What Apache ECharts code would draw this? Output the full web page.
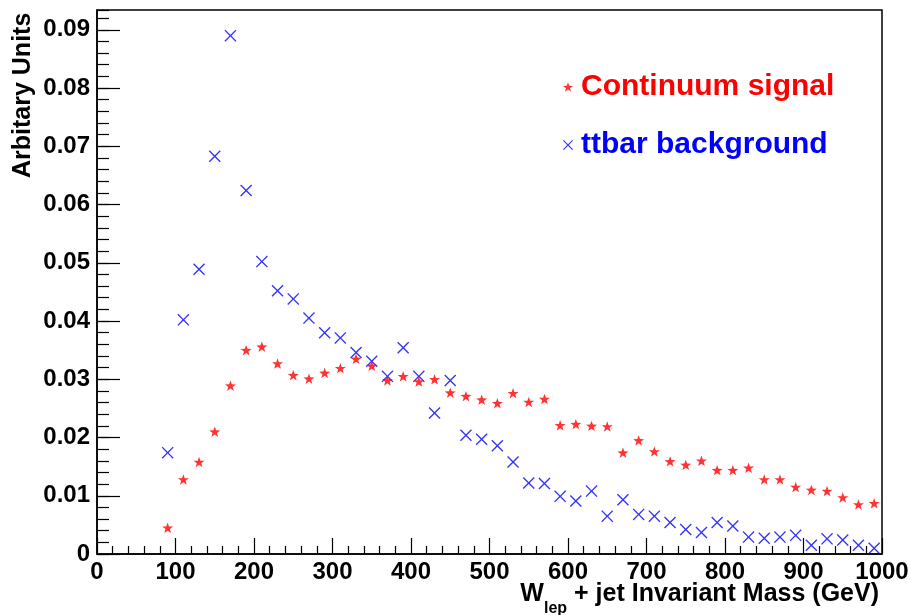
<!DOCTYPE html>
<html>
<head>
<meta charset="utf-8">
<title>W + jet invariant mass</title>
<script src="https://cdn.jsdelivr.net/npm/echarts@6/dist/echarts.min.js"></script>
<style>
  html, body { margin: 0; padding: 0; background: #fff; }
  #chart { width: 911px; height: 615px; }
</style>
</head>
<body>
<div id="chart"></div>
<script>
// Bin centres of the W_lep + jet invariant mass histogram (GeV)
var massBins = [90, 110, 130, 150, 170, 190, 210, 230, 250, 270,
                290, 310, 330, 350, 370, 390, 410, 430, 450, 470,
                490, 510, 530, 550, 570, 590, 610, 630, 650, 670,
                690, 710, 730, 750, 770, 790, 810, 830, 850, 870,
                890, 910, 930, 950, 970, 990];

// Normalised distributions (arbitrary units)
var continuumSignal = [0.0045, 0.0128, 0.0158, 0.0210, 0.0289, 0.0350, 0.0356, 0.0327, 0.0307, 0.0301,
                       0.0311, 0.0319, 0.0335, 0.0323, 0.0298, 0.0305, 0.0296, 0.0300, 0.0277, 0.0271,
                       0.0265, 0.0259, 0.0276, 0.0261, 0.0266, 0.0221, 0.0223, 0.0220, 0.0219, 0.0174,
                       0.0195, 0.0176, 0.0159, 0.0153, 0.0160, 0.0144, 0.0144, 0.0148, 0.0128, 0.0128,
                       0.0115, 0.0110, 0.0108, 0.0097, 0.0085, 0.0087];

var ttbarBackground = [0.0174, 0.0402, 0.0489, 0.0683, 0.0890, 0.0624, 0.0502, 0.0452, 0.0438, 0.0405,
                       0.0380, 0.0371, 0.0346, 0.0331, 0.0305, 0.0354, 0.0305, 0.0242, 0.0298, 0.0204,
                       0.0197, 0.0186, 0.0158, 0.0122, 0.0121, 0.0099, 0.0091, 0.0108, 0.0065, 0.0093,
                       0.0068, 0.0065, 0.0054, 0.0042, 0.0037, 0.0054, 0.0048, 0.0029, 0.0027, 0.0029,
                       0.0032, 0.0015, 0.0026, 0.0024, 0.0015, 0.0010];

var seriesNames = ['Continuum signal', 'ttbar background'];
var xTitle = '{m|W}{sub|lep}{m| + jet Invariant Mass (GeV)}';
var yTitle = 'Arbitary Units';

var FONT = '"Liberation Sans", Arial, Helvetica, sans-serif';
var STAR = 'path://M50,0 L61.76,33.82 L97.55,34.55 L69.02,56.18 L79.39,90.45 L50,70 L20.61,90.45 L30.98,56.18 L2.45,34.55 L38.24,33.82 Z';
var CROSS = 'path://M0,8 L8,0 L50,42 L92,0 L100,8 L58,50 L100,92 L92,100 L50,58 L8,100 L0,92 L42,50 Z';

function pairs(xs, ys) {
  return xs.map(function (x, i) { return [x, ys[i]]; });
}

var chart = echarts.init(document.getElementById('chart'), null, { renderer: 'canvas' });

chart.setOption({
  backgroundColor: '#ffffff',
  animation: false,
  grid: {
    left: 97, right: 29, top: 10, bottom: 61,
    show: true, borderColor: '#000', borderWidth: 1.5,
    outerBoundsMode: 'none'
  },
  legend: {
    orient: 'vertical',
    left: 563, top: 67,
    padding: 0,
    itemWidth: 10, itemHeight: 10,
    itemGap: 18,
    selectedMode: false,
    textStyle: { fontFamily: FONT, fontWeight: 'bold', fontSize: 30, lineHeight: 30, padding: [0, 0, 10, 3] },
    data: [
      { name: seriesNames[0], icon: STAR, textStyle: { color: '#ff0000' }, itemStyle: { color: '#ff0000' } },
      { name: seriesNames[1], icon: CROSS, textStyle: { color: '#0000ff' }, itemStyle: { color: '#0000ff' } }
    ]
  },
  // axis titles
  graphic: [
    {
      type: 'text',
      x: 879, y: 582,
      silent: true,
      style: {
        text: xTitle,
        align: 'right',
        verticalAlign: 'top',
        rich: {
          m: { fontFamily: FONT, fontWeight: 'bold', fontSize: 25, lineHeight: 25, verticalAlign: 'top', fill: '#000' },
          sub: { fontFamily: FONT, fontWeight: 'bold', fontSize: 16, lineHeight: 35, verticalAlign: 'bottom', fill: '#000' }
        }
      }
    },
    {
      type: 'text',
      x: 35.5, y: 178,
      rotation: Math.PI / 2,
      silent: true,
      style: {
        text: yTitle,
        fontFamily: FONT, fontWeight: 'bold', fontSize: 25, lineHeight: 25,
        align: 'left', verticalAlign: 'bottom', fill: '#000'
      }
    }
  ],
  xAxis: {
    type: 'value',
    min: 0, max: 1000, interval: 100,
    axisLine: { lineStyle: { color: '#000', width: 1.5 } },
    axisTick: { inside: true, length: 16, lineStyle: { color: '#000', width: 1.2 } },
    minorTick: { show: true, splitNumber: 5, length: 8, lineStyle: { color: '#000', width: 1.2 } },
    splitLine: { show: false },
    axisLabel: {
      color: '#000', fontFamily: FONT, fontWeight: 'bold', fontSize: 24, margin: 6,
      formatter: function (v) { return String(v); }
    }
  },
  yAxis: [
    {
      type: 'value',
      min: 0, max: 0.0934, interval: 0.01,
      axisLine: { show: true, lineStyle: { color: '#000', width: 1.5 } },
      axisTick: { inside: true, length: 23, lineStyle: { color: '#000', width: 1.2 } },
      splitLine: { show: false },
      axisLabel: {
        color: '#000', fontFamily: FONT, fontWeight: 'bold', fontSize: 24, margin: 7,
        showMaxLabel: false,
        formatter: function (v) {
          if (v === 0) return '0';
          var k = v * 100;
          return Math.abs(k - Math.round(k)) < 1e-6 ? v.toFixed(2) : '';
        }
      }
    },
    {
      // minor ticks of the y axis
      type: 'value',
      position: 'left',
      min: 0, max: 0.0934, interval: 0.002,
      axisLine: { show: false },
      axisTick: { show: true, inside: true, length: 12, lineStyle: { color: '#000', width: 1.2 } },
      axisLabel: { show: false },
      splitLine: { show: false }
    }
  ],
  series: [
    {
      name: seriesNames[0],
      type: 'scatter',
      data: pairs(massBins, continuumSignal),
      symbol: STAR,
      symbolKeepAspect: true,
      symbolSize: 11,
      itemStyle: { color: '#ff0000' },
      z: 3
    },
    {
      name: seriesNames[1],
      type: 'scatter',
      data: pairs(massBins, ttbarBackground),
      symbol: CROSS,
      symbolSize: 12,
      itemStyle: { color: '#0000ff' },
      z: 2
    }
  ]
});
</script>
</body>
</html>
